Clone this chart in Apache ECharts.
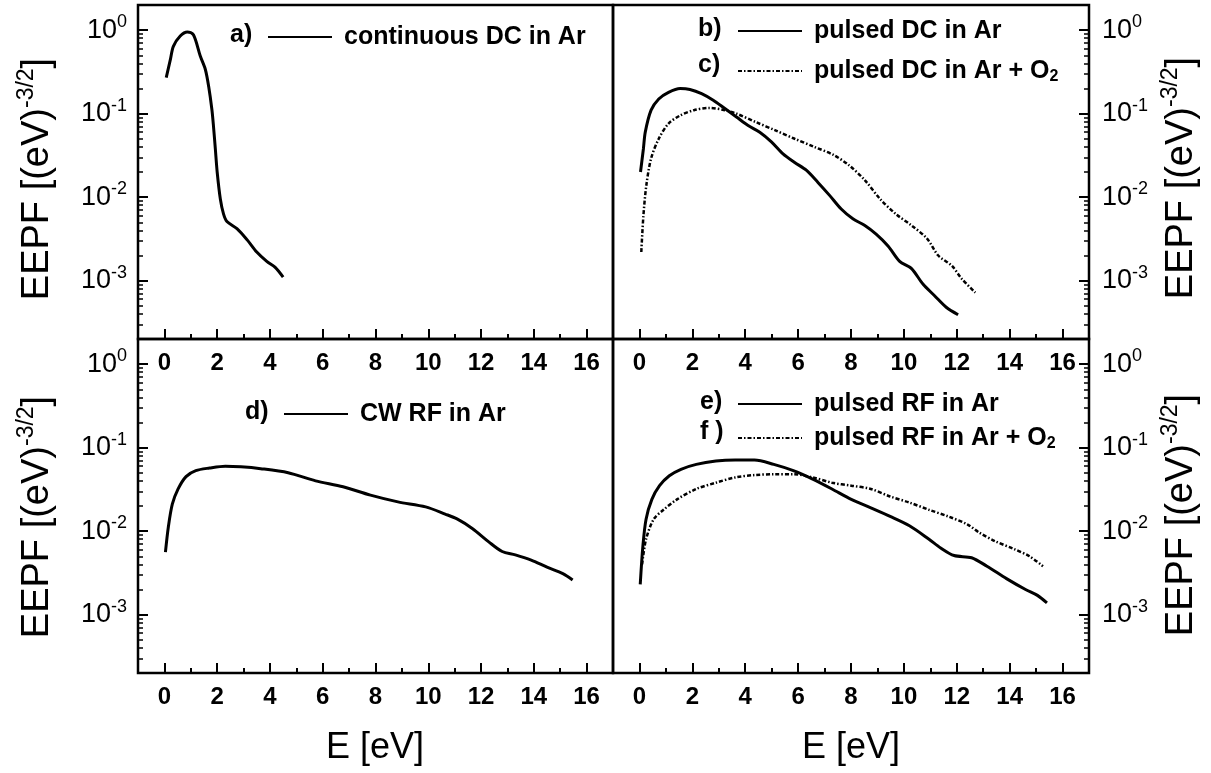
<!DOCTYPE html>
<html>
<head>
<meta charset="utf-8">
<title>EEPF</title>
<script src="https://cdn.jsdelivr.net/npm/echarts@6.0.0/dist/echarts.min.js"></script>
<style>
  html, body { margin: 0; padding: 0; background: #fff; }
  #chart { width: 1211px; height: 773px; }
</style>
</head>
<body>
<div id="chart"></div>
<script>
// values (E in eV, EEPF in (eV)^-3/2)
var E_a = [0.07, 0.23, 0.34, 0.6, 0.87, 1.1, 1.36, 1.55, 1.68, 1.8, 1.86, 1.93, 2.0, 2.12, 2.24, 2.37, 2.75, 3.13, 3.5, 3.88, 4.2, 4.5];
var F_a = [0.27, 0.45, 0.64, 0.85, 0.95, 0.88, 0.49, 0.34, 0.21, 0.112, 0.071, 0.038, 0.020, 0.0095, 0.0063, 0.0051, 0.0042, 0.0031, 0.0022, 0.0017, 0.00144, 0.0011];

var E_b = [0.04, 0.15, 0.22, 0.44, 0.73, 1.1, 1.54, 1.91, 2.35, 2.79, 3.23, 3.67, 4.11, 4.55, 4.99, 5.43, 5.87, 6.31, 6.75, 7.19, 7.63, 8.07, 8.51, 8.95, 9.4, 9.84, 10.28, 10.72, 11.16, 11.6, 12.05];
var F_b = [0.020, 0.038, 0.060, 0.11, 0.15, 0.18, 0.20, 0.195, 0.174, 0.145, 0.115, 0.091, 0.072, 0.060, 0.046, 0.033, 0.026, 0.021, 0.015, 0.0105, 0.0072, 0.0055, 0.0046, 0.0036, 0.0026, 0.0017, 0.0014, 0.00091, 0.00066, 0.00048, 0.00039];

var E_c = [0.07, 0.15, 0.26, 0.44, 0.73, 1.1, 1.54, 2.06, 2.64, 3.23, 3.67, 4.41, 5.14, 5.87, 6.61, 7.34, 7.93, 8.52, 9.1, 9.69, 10.28, 10.87, 11.3, 11.82, 12.19, 12.7];
var F_c = [0.0022, 0.006, 0.0138, 0.029, 0.050, 0.076, 0.095, 0.11, 0.117, 0.11, 0.1, 0.079, 0.063, 0.050, 0.040, 0.032, 0.024, 0.016, 0.0095, 0.0063, 0.0046, 0.0032, 0.002, 0.0015, 0.00105, 0.00072];

var E_d = [0.04, 0.15, 0.30, 0.52, 0.82, 1.19, 1.71, 2.31, 2.9, 3.65, 4.69, 5.73, 6.77, 7.81, 8.85, 9.9, 10.64, 11.09, 11.68, 12.28, 12.8, 13.3, 13.9, 14.5, 15.1, 15.47];
var F_d = [0.0056, 0.0112, 0.021, 0.032, 0.045, 0.053, 0.057, 0.060, 0.059, 0.056, 0.050, 0.040, 0.034, 0.027, 0.0224, 0.0195, 0.016, 0.014, 0.0107, 0.0075, 0.0057, 0.0052, 0.0045, 0.0037, 0.0031, 0.0026];

var E_e = [0.03, 0.13, 0.25, 0.47, 0.76, 1.13, 1.57, 2.15, 2.89, 3.62, 4.35, 5.08, 5.82, 6.55, 7.28, 8.01, 8.75, 9.48, 10.21, 10.95, 11.39, 11.9, 12.56, 13.14, 13.88, 14.6, 15.05, 15.41];
var F_e = [0.0023, 0.0066, 0.0139, 0.024, 0.035, 0.046, 0.055, 0.063, 0.069, 0.071, 0.071, 0.063, 0.053, 0.042, 0.032, 0.024, 0.019, 0.015, 0.0116, 0.0080, 0.0063, 0.0051, 0.0048, 0.0038, 0.0027, 0.0020, 0.0017, 0.00138];

var E_f = [0.1, 0.25, 0.54, 0.91, 1.42, 2.15, 2.89, 3.62, 4.35, 5.08, 5.82, 6.55, 7.28, 8.01, 8.75, 9.48, 10.21, 10.95, 11.68, 12.41, 12.85, 13.44, 14.17, 14.75, 15.26];
var F_f = [0.004, 0.008, 0.0139, 0.018, 0.024, 0.032, 0.038, 0.044, 0.047, 0.048, 0.048, 0.044, 0.038, 0.035, 0.032, 0.026, 0.022, 0.018, 0.015, 0.012, 0.0096, 0.0076, 0.0061, 0.0050, 0.0038];

var names = ['continuous DC in Ar', 'pulsed DC in Ar', 'pulsed DC in Ar + O2', 'CW RF in Ar', 'pulsed RF in Ar', 'pulsed RF in Ar + O2'];
var majorX = [0, 2, 4, 6, 8, 10, 12, 14, 16];
var minorX = [1, 3, 5, 7, 9, 11, 13, 15];

var FONT = '"Liberation Sans", Arial, sans-serif';
var DASHDOT = [4, 2, 1.5, 2];

function zip(xs, ys) {
  var out = [];
  for (var i = 0; i < xs.length; i++) out.push([xs[i], ys[i]]);
  return out;
}

// panels: a (top left), b/c (top right), d (bottom left), e/f (bottom right)
var grids = [
  { left: 138, top: 5, width: 475, height: 334 },
  { left: 613, top: 5, width: 476, height: 334 },
  { left: 138, top: 339, width: 475, height: 334 },
  { left: 613, top: 339, width: 476, height: 334 }
];

var xAxes = [];
var yAxes = [];
for (var g = 0; g < 4; g++) {
  xAxes.push({
    type: 'value', gridIndex: g, min: -1, max: 17, position: 'bottom',
    axisLine: { show: false, onZero: false },
    splitLine: { show: false },
    axisTick: { inside: true, length: 10, customValues: majorX, lineStyle: { color: '#000', width: 2 } },
    axisLabel: { customValues: majorX, margin: 12, color: '#000', fontSize: 24, fontWeight: 'bold', fontFamily: FONT }
  });
}
for (var g = 0; g < 4; g++) {
  // short ticks at odd energies
  xAxes.push({
    type: 'value', gridIndex: g, min: -1, max: 17, position: 'bottom',
    axisLine: { show: false, onZero: false },
    splitLine: { show: false },
    axisLabel: { show: false },
    axisTick: { inside: true, length: 5, customValues: minorX, lineStyle: { color: '#000', width: 2 } }
  });
}
for (var g = 0; g < 4; g++) {
  yAxes.push({
    type: 'log', logBase: 10, gridIndex: g, min: 0.0002, max: 2,
    position: (g % 2 === 0) ? 'left' : 'right',
    axisLine: { show: false, onZero: false },
    splitLine: { show: false },
    axisTick: { inside: true, length: 10, lineStyle: { color: '#000', width: 2 } },
    minorTick: { show: true, splitNumber: 9, length: 5, lineStyle: { color: '#000', width: 1.5 } },
    axisLabel: {
      margin: (g % 2 === 0) ? 11 : 13,
      color: '#000',
      fontFamily: FONT,
      formatter: function (v) {
        var l = Math.log(v) / Math.LN10;
        var e = Math.round(l);
        if (Math.abs(l - e) > 1e-6) return '';
        return '{b|10}{s|' + e + '}';
      },
      rich: {
        b: { fontSize: 27, lineHeight: 34, color: '#000', fontFamily: FONT },
        s: { fontSize: 18, lineHeight: 18, verticalAlign: 'top', color: '#000', fontFamily: FONT }
      }
    }
  });
}

function lineSeries(name, g, xs, ys, dashed) {
  return {
    name: name, type: 'line', xAxisIndex: g, yAxisIndex: g,
    symbol: 'none', showSymbol: false, smooth: 0.3,
    lineStyle: { color: '#000', width: dashed ? 2.5 : 3, type: dashed ? DASHDOT : 'solid' },
    itemStyle: { color: '#000' },
    data: zip(xs, ys)
  };
}

function legendAt(left, top, data, gap) {
  return {
    left: left, top: top, orient: 'vertical', padding: 0,
    itemWidth: 64, itemHeight: 24, itemGap: gap,
    selectedMode: false,
    itemStyle: { opacity: 0 },
    data: data,
    formatter: function (n) {
      if (n.slice(-2) === 'O2') return n.slice(0, -1) + '{sub|2}';
      return n;
    },
    textStyle: {
      color: '#000', fontSize: 25, fontWeight: 'bold', fontFamily: FONT, lineHeight: 28,
      padding: [0, 0, 0, 7],
      rich: {
        sub: { fontSize: 16, lineHeight: 16, verticalAlign: 'bottom', fontWeight: 'bold', color: '#000', fontFamily: FONT }
      }
    }
  };
}

function label(txt, x, y) {
  return {
    type: 'text', x: x, y: y,
    style: { text: txt, fill: '#000', font: 'bold 25px ' + FONT, textVerticalAlign: 'middle' }
  };
}

var yTitleRich = {
  t: { fontSize: 38, lineHeight: 46, fill: '#000', fontFamily: FONT },
  s: { fontSize: 23, lineHeight: 23, verticalAlign: 'top', fill: '#000', fontFamily: FONT }
};
function yTitle(x, y) {
  return {
    type: 'text', x: x, y: y, rotation: Math.PI / 2,
    style: { text: '{t|EEPF [(eV)}{s|-3/2}{t|]}', rich: yTitleRich, align: 'center', verticalAlign: 'middle', fill: '#000' }
  };
}
function xTitle(x, y) {
  return {
    type: 'text', x: x, y: y,
    style: { text: 'E [eV]', fill: '#000', font: '36px ' + FONT, align: 'center', verticalAlign: 'middle' }
  };
}

var option = {
  animation: false,
  backgroundColor: '#fff',
  grid: grids.map(function (g) {
    return { left: g.left, top: g.top, width: g.width, height: g.height, show: true, borderColor: '#000', borderWidth: 2.5, containLabel: false };
  }),
  xAxis: xAxes,
  yAxis: yAxes,
  legend: [
    legendAt(267, 23, [names[0]], 10),
    legendAt(737, 17, [names[1], names[2]], 12),
    legendAt(283, 400, [names[3]], 10),
    legendAt(737, 390, [names[4], names[5]], 6)
  ],
  series: [
    lineSeries(names[0], 0, E_a, F_a, false),
    lineSeries(names[1], 1, E_b, F_b, false),
    lineSeries(names[2], 1, E_c, F_c, true),
    lineSeries(names[3], 2, E_d, F_d, false),
    lineSeries(names[4], 3, E_e, F_e, false),
    lineSeries(names[5], 3, E_f, F_f, true)
  ],
  graphic: [
    label('a)', 230, 35),
    label('b)', 698, 29),
    label('c)', 698, 65),
    label('d)', 245, 412),
    label('e)', 700, 402),
    label('f )', 700, 432),
    yTitle(38, 179),
    yTitle(1182, 178),
    yTitle(38, 517),
    yTitle(1182, 515),
    xTitle(375, 748),
    xTitle(851, 748)
  ]
};

var myChart = echarts.init(document.getElementById('chart'));
myChart.setOption(option);
</script>
</body>
</html>
